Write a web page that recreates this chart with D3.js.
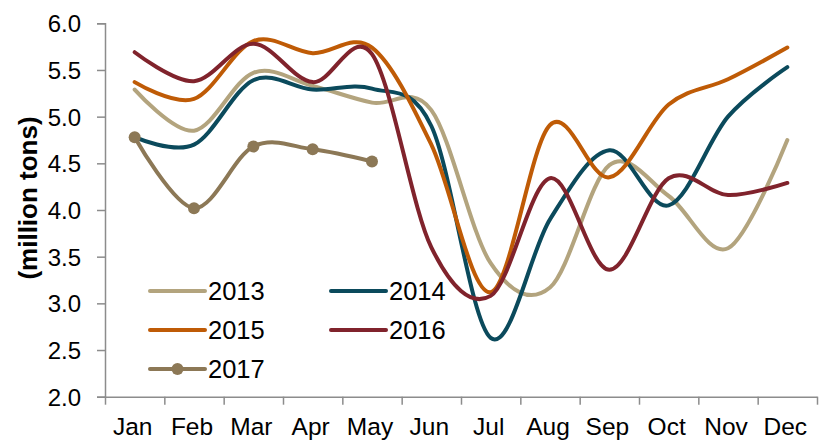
<!DOCTYPE html>
<html><head><meta charset="utf-8">
<script src="https://cdn.jsdelivr.net/npm/d3@7"></script>
<style>
body{margin:0;background:#fff;}
text{font-family:"Liberation Sans",Arial,sans-serif;}
</style></head>
<body><svg id="c" width="825" height="443"></svg>
<script>
const months = ["Jan","Feb","Mar","Apr","May","Jun","Jul","Aug","Sep","Oct","Nov","Dec"];
const yTicks = [2.0,2.5,3.0,3.5,4.0,4.5,5.0,5.5,6.0];
const s2013 = [5.29,4.85,5.47,5.33,5.15,5.07,3.43,3.17,4.48,4.15,3.59,4.75];
const s2014 = [4.78,4.70,5.39,5.29,5.30,4.90,2.63,3.90,4.64,4.05,5.00,5.53];
const s2015 = [5.37,5.19,5.81,5.68,5.74,4.70,3.12,4.91,4.35,5.13,5.40,5.74];
const s2016 = [5.69,5.38,5.78,5.37,5.67,3.60,3.08,4.34,3.36,4.34,4.16,4.29];
const s2017 = [4.78,4.02,4.68,4.65,4.52];
const seriesNames = ["2013","2014","2015","2016","2017"];
const colors = ["#b3a47e","#0b4a5c","#bf5b06","#80232c","#8c7856"];

const series = [s2013,s2014,s2015,s2016,s2017].map((v,i)=>({name:seriesNames[i],values:v,color:colors[i],marker:i===4}));

const svg = d3.select("#c");
const L=105, R=817, T=23.3, B=396.7;
const x = d3.scaleBand().domain(months).range([L,R]).paddingInner(0).paddingOuter(0);
const xc = m => x(m)+x.bandwidth()/2;
const y = d3.scaleLinear().domain([2,6]).range([B,T]);

// Y axis
const ya = svg.append("g").attr("transform",`translate(${L},0)`)
  .call(d3.axisLeft(y).tickValues(yTicks).tickFormat(d3.format(".1f")).tickSize(8).tickPadding(16));
ya.selectAll("text").attr("font-size",24).attr("fill","#000").attr("dy","0.35em");
ya.selectAll("line,path").attr("stroke","#8c8c8c").attr("stroke-width",1.5);

// X axis boundaries
const xb = d3.scaleLinear().domain([0,12]).range([L,R]);
const xa = svg.append("g").attr("transform",`translate(0,${B})`)
  .call(d3.axisBottom(xb).tickValues(d3.range(13)).tickFormat("").tickSize(8).tickSizeOuter(0));
xa.selectAll("line,path").attr("stroke","#8c8c8c").attr("stroke-width",1.5);
const xl = svg.append("g").attr("transform",`translate(0,${B})`)
  .call(d3.axisBottom(x).tickSize(0).tickPadding(0));
xl.select("path").remove();
xl.selectAll("text").attr("font-size",24.5).attr("fill","#000").attr("dy","1.55em").attr("dx","-2");

// Y title
svg.append("text").attr("transform",`translate(37,198) rotate(-90)`)
  .attr("text-anchor","middle").attr("font-size",26).attr("font-weight","bold").text("(million tons)");

// Lines
const line = d3.line().x((d,i)=>xc(months[i])).y(d=>y(d)).curve(d3.curveCatmullRom.alpha(0));
series.forEach(s=>{
  svg.append("path").attr("d",line(s.values)).attr("fill","none").attr("stroke",s.color)
    .attr("stroke-width",4).attr("stroke-linecap","round").attr("stroke-linejoin","round");
  if(s.marker){
    svg.selectAll(null).data(s.values).enter().append("circle")
      .attr("cx",(d,i)=>xc(months[i])).attr("cy",d=>y(d)).attr("r",6).attr("fill",s.color);
  }
});

// Legend
const legPos = [[150,291],[331,291],[150,330],[331,330],[150,369]];
series.forEach((s,i)=>{
  const [lx,ly]=legPos[i];
  const g=svg.append("g");
  g.append("line").attr("x1",lx).attr("x2",lx+55).attr("y1",ly).attr("y2",ly)
    .attr("stroke",s.color).attr("stroke-width",4).attr("stroke-linecap","round");
  if(s.marker) g.append("circle").attr("cx",lx+27.5).attr("cy",ly).attr("r",6).attr("fill",s.color);
  g.append("text").attr("x",lx+58).attr("y",ly).attr("dy","0.36em").attr("font-size",25.5).text(s.name);
});
</script></body></html>
